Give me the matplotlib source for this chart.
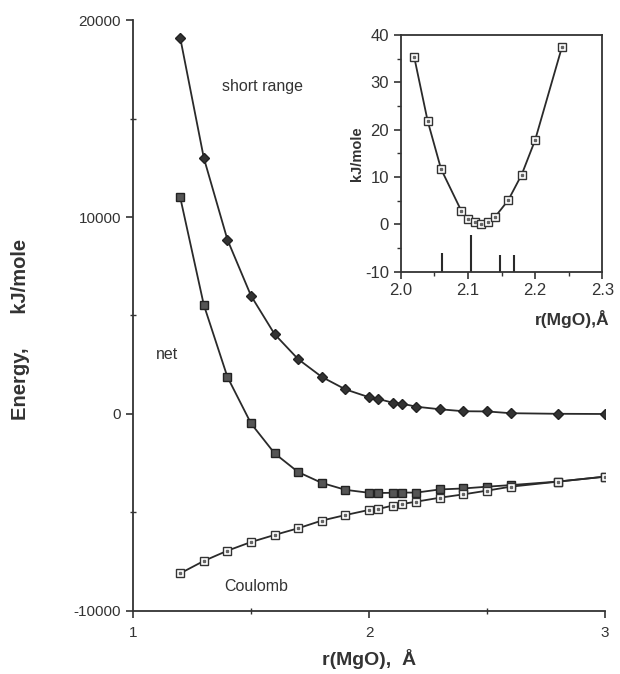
import numpy as np
import matplotlib.pyplot as plt
from matplotlib.ticker import MultipleLocator

plt.rcParams['font.family'] = ['Liberation Sans', 'DejaVu Sans']
plt.rcParams['axes.unicode_minus'] = False

# main plot: energy components vs Mg-O distance (kJ/mole)
r = [1.2, 1.3, 1.4, 1.5, 1.6, 1.7, 1.8, 1.9, 2.0, 2.04, 2.1, 2.14, 2.2,
     2.3, 2.4, 2.5, 2.6, 2.8, 3.0]
short_range = [19100, 13000, 8850, 6000, 4050, 2780, 1880, 1250, 850, 760,
               575, 525, 370, 240, 140, 130, 40, 10, 0]
net = [11000, 5540, 1880, -480, -2000, -2950, -3500, -3850, -4000, -4010,
       -4000, -3990, -3990, -3830, -3780, -3690, -3610, -3430, -3180]
coulomb = [-8090, -7460, -6940, -6500, -6140, -5800, -5410, -5130, -4870,
           -4820, -4650, -4570, -4450, -4250, -4080, -3890, -3690, -3435, -3180]

# inset: net energy near the minimum, relative to the minimum
r_fine = [2.02, 2.04, 2.06, 2.09, 2.10, 2.11, 2.12, 2.13, 2.14, 2.16, 2.18,
          2.20, 2.24]
e_fine = [35.4, 21.9, 11.7, 2.9, 1.1, 0.5, 0.1, 0.4, 1.5, 5.1, 10.5, 17.8, 37.5]

# observed distances shown as bars at the bottom of the inset
r_obs = [2.062, 2.105, 2.147, 2.168]
h_obs = [-6.1, -2.3, -6.5, -6.4]

line_c = '#2a2a2a'
text_c = '#333333'

fig = plt.figure(figsize=(6.2, 6.74), dpi=100)
ax = fig.add_axes([0.2145, 0.0935, 0.7615, 0.8768])

ax.plot(r, short_range, color=line_c, lw=1.3, marker='D', ms=5,
        mfc='#333333', mec='#222222')
ax.plot(r, net, color=line_c, lw=1.3, marker='s', ms=6,
        mfc='#555555', mec='#222222', mew=1.0)
ax.plot(r, coulomb, color=line_c, lw=1.3, marker='s', ms=6,
        mfc='white', mec='#333333', mew=1.0)
ax.plot(r, coulomb, ls='none', marker='s', ms=1.8, mfc='#666666', mec='#666666')

ax.set_xlim(1, 3)
ax.set_ylim(-10000, 20000)
ax.spines['top'].set_visible(False)
ax.spines['right'].set_visible(False)
for s in ('left', 'bottom'):
    ax.spines[s].set_linewidth(1.3)
    ax.spines[s].set_color(text_c)
ax.set_xticks([1, 2, 3])
ax.set_yticks([-10000, 0, 10000, 20000])
ax.xaxis.set_minor_locator(MultipleLocator(0.5))
ax.yaxis.set_minor_locator(MultipleLocator(5000))
ax.tick_params(which='major', direction='out', length=5, width=1.2,
               labelsize=11, colors=text_c)
ax.tick_params(which='minor', direction='inout', length=4, width=1.0,
               colors=text_c)
ax.tick_params(axis='x', which='major', pad=6)

ax.set_xlabel('r(MgO),  Å', fontsize=14, fontweight='bold', color=text_c,
              labelpad=6)
ax.set_ylabel('Energy,      kJ/mole', fontsize=14.5, fontweight='bold',
              color=text_c)
ax.yaxis.set_label_coords(-0.218, 0.477)

ax.text(1.55, 16600, 'short range', fontsize=11.5, color=text_c, ha='center',
        va='center')
ax.text(1.145, 3000, 'net', fontsize=11.5, color=text_c, ha='center',
        va='center')
ax.text(1.52, -8750, 'Coulomb', fontsize=11.5, color=text_c, ha='center',
        va='center')

# inset
axi = fig.add_axes([0.6463, 0.5969, 0.3252, 0.3512])
axi.plot(r_fine, e_fine, color=line_c, lw=1.3, marker='s', ms=6,
         mfc='white', mec='#333333', mew=1.0)
axi.plot(r_fine, e_fine, ls='none', marker='s', ms=1.8, mfc='#666666',
         mec='#666666')
axi.vlines(r_obs, -10, h_obs, color=line_c, lw=1.5)
axi.set_xlim(2.0, 2.3)
axi.set_ylim(-10, 40)
axi.set_xticks([2.0, 2.1, 2.2, 2.3])
axi.set_xticklabels(['2.0', '2.1', '2.2', '2.3'])
axi.set_yticks([-10, 0, 10, 20, 30, 40])
axi.xaxis.set_minor_locator(MultipleLocator(0.05))
axi.yaxis.set_minor_locator(MultipleLocator(5))
for s in axi.spines.values():
    s.set_linewidth(1.3)
    s.set_color(text_c)
axi.tick_params(which='major', direction='out', length=5, width=1.2,
                labelsize=12, colors=text_c)
axi.tick_params(which='minor', direction='out', length=3, width=1.0,
                colors=text_c)
axi.set_ylabel('kJ/mole', fontsize=10.5, fontweight='bold', color=text_c,
               labelpad=1)
axi.text(1.035, -0.2, 'r(MgO),Å', transform=axi.transAxes, ha='right',
         va='center', fontsize=12.5, fontweight='bold', color=text_c)

fig.savefig('out.png', dpi=100)
